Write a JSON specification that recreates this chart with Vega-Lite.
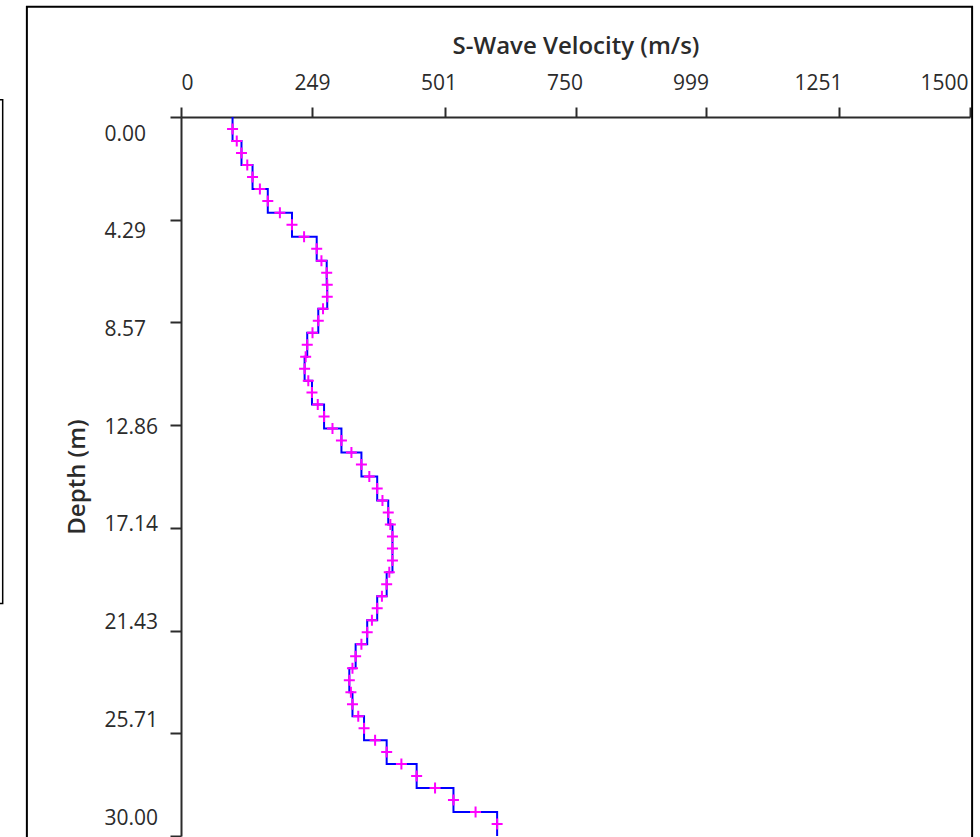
{
  "$schema": "https://vega.github.io/schema/vega-lite/v6.json",
  "width": 789,
  "height": 719,
  "autosize": "none",
  "padding": {"left": 181, "top": 117, "right": 10, "bottom": 1},
  "background": "white",
  "config": {"view": {"stroke": null}, "font": "Open Sans"},
  "datasets": {
    "layers": [
      {"depth": 0, "vs": 98}, {"depth": 1, "vs": 115}, {"depth": 2, "vs": 136}, {"depth": 3, "vs": 165},
      {"depth": 4, "vs": 211}, {"depth": 5, "vs": 258}, {"depth": 6, "vs": 277}, {"depth": 7, "vs": 278},
      {"depth": 8, "vs": 261}, {"depth": 9, "vs": 240}, {"depth": 10, "vs": 235}, {"depth": 11, "vs": 249},
      {"depth": 12, "vs": 272}, {"depth": 13, "vs": 305}, {"depth": 14, "vs": 343}, {"depth": 15, "vs": 373},
      {"depth": 16, "vs": 394}, {"depth": 17, "vs": 402}, {"depth": 18, "vs": 402}, {"depth": 19, "vs": 391},
      {"depth": 20, "vs": 373}, {"depth": 21, "vs": 354}, {"depth": 22, "vs": 332}, {"depth": 23, "vs": 320},
      {"depth": 24, "vs": 326}, {"depth": 25, "vs": 348}, {"depth": 26, "vs": 391}, {"depth": 27, "vs": 448},
      {"depth": 28, "vs": 518}, {"depth": 29, "vs": 601}, {"depth": 30, "vs": 601}
    ],
    "markers": [
      {"depth": 0.5, "vs": 98}, {"depth": 1.0, "vs": 106}, {"depth": 1.5, "vs": 115}, {"depth": 2.0, "vs": 126},
      {"depth": 2.5, "vs": 136}, {"depth": 3.0, "vs": 150}, {"depth": 3.5, "vs": 165}, {"depth": 4.0, "vs": 188},
      {"depth": 4.5, "vs": 211}, {"depth": 5.0, "vs": 234}, {"depth": 5.5, "vs": 258}, {"depth": 6.0, "vs": 267},
      {"depth": 6.5, "vs": 277}, {"depth": 7.0, "vs": 278}, {"depth": 7.5, "vs": 278}, {"depth": 8.0, "vs": 270},
      {"depth": 8.5, "vs": 261}, {"depth": 9.0, "vs": 250}, {"depth": 9.5, "vs": 240}, {"depth": 10.0, "vs": 237},
      {"depth": 10.5, "vs": 235}, {"depth": 11.0, "vs": 242}, {"depth": 11.5, "vs": 249}, {"depth": 12.0, "vs": 260},
      {"depth": 12.5, "vs": 272}, {"depth": 13.0, "vs": 288}, {"depth": 13.5, "vs": 305}, {"depth": 14.0, "vs": 324},
      {"depth": 14.5, "vs": 343}, {"depth": 15.0, "vs": 358}, {"depth": 15.5, "vs": 373}, {"depth": 16.0, "vs": 383},
      {"depth": 16.5, "vs": 394}, {"depth": 17.0, "vs": 398}, {"depth": 17.5, "vs": 402}, {"depth": 18.0, "vs": 402},
      {"depth": 18.5, "vs": 402}, {"depth": 19.0, "vs": 396}, {"depth": 19.5, "vs": 391}, {"depth": 20.0, "vs": 382},
      {"depth": 20.5, "vs": 373}, {"depth": 21.0, "vs": 363}, {"depth": 21.5, "vs": 354}, {"depth": 22.0, "vs": 343},
      {"depth": 22.5, "vs": 332}, {"depth": 23.0, "vs": 326}, {"depth": 23.5, "vs": 320}, {"depth": 24.0, "vs": 323},
      {"depth": 24.5, "vs": 326}, {"depth": 25.0, "vs": 337}, {"depth": 25.5, "vs": 348}, {"depth": 26.0, "vs": 369},
      {"depth": 26.5, "vs": 391}, {"depth": 27.0, "vs": 419}, {"depth": 27.5, "vs": 448}, {"depth": 28.0, "vs": 483},
      {"depth": 28.5, "vs": 518}, {"depth": 29.0, "vs": 560}, {"depth": 29.5, "vs": 601}
    ]
  },
  "layer": [
    {
      "data": {"name": "layers"},
      "mark": {"type": "line", "interpolate": "step-before", "color": "#0000FF", "strokeWidth": 2},
      "encoding": {
        "order": {"field": "depth", "type": "quantitative"},
        "x": {
          "field": "vs", "type": "quantitative",
          "scale": {"domain": [0, 1500], "nice": false, "zero": false},
          "axis": {
            "orient": "top",
            "title": "S-Wave Velocity (m/s)",
            "values": [0, 249, 501, 750, 999, 1251, 1500],
            "format": "d",
            "grid": false,
            "domainColor": "#2b2b2b", "domainWidth": 2,
            "tickColor": "#2b2b2b", "tickWidth": 2, "tickSize": 10,
            "labelFont": "Open Sans", "labelFontSize": 21, "labelColor": "#2b2b2b",
            "labelPadding": 14, "labelFlush": false, "labelAngle": 0,
            "labelOffset": {
              "condition": [
                {"test": "datum.value < 100", "value": 6},
                {"test": "datum.value < 300", "value": 0},
                {"test": "datum.value < 600", "value": -6},
                {"test": "datum.value < 800", "value": -11},
                {"test": "datum.value < 1100", "value": -16},
                {"test": "datum.value < 1300", "value": -21}
              ],
              "value": -26
            },
            "titleFont": "Open Sans", "titleFontSize": 24, "titleFontWeight": 600, "titleColor": "#2b2b2b",
            "titlePadding": 14
          }
        },
        "y": {
          "field": "depth", "type": "quantitative",
          "scale": {"domain": [0, 30], "nice": false, "zero": false, "reverse": true},
          "axis": {
            "orient": "left",
            "title": "Depth (m)",
            "values": [0, 4.29, 8.57, 12.86, 17.14, 21.43, 25.71, 30],
            "format": ".2f",
            "grid": false,
            "domainColor": "#2b2b2b", "domainWidth": 2,
            "tickColor": "#2b2b2b", "tickWidth": 2, "tickSize": 11,
            "labelFont": "Open Sans", "labelFontSize": 21, "labelColor": "#2b2b2b",
            "labelAlign": "left", "labelBaseline": "middle",
            "labelPadding": 66, "labelFlush": false,
            "labelOffset": {
              "condition": [
                {"test": "datum.value < 1", "value": 17},
                {"test": "datum.value < 5", "value": 12},
                {"test": "datum.value < 9", "value": 7},
                {"test": "datum.value < 13", "value": 2},
                {"test": "datum.value < 18", "value": -3},
                {"test": "datum.value < 22", "value": -8},
                {"test": "datum.value < 26", "value": -13}
              ],
              "value": -18
            },
            "titleFont": "Open Sans", "titleFontSize": 24, "titleFontWeight": 600, "titleColor": "#2b2b2b",
            "titlePadding": 15
          }
        }
      }
    },
    {
      "data": {"name": "markers"},
      "mark": {"type": "point", "shape": "M-1,0L1,0M0,-1L0,1", "size": 121, "filled": false, "stroke": "#FF00FF", "strokeWidth": 2, "opacity": 1},
      "encoding": {
        "x": {"field": "vs", "type": "quantitative"},
        "y": {"field": "depth", "type": "quantitative"}
      }
    },
    {
      "data": {"values": [{"frame": "outer"}]},
      "mark": {"type": "rect", "filled": false, "stroke": "black", "strokeWidth": 2, "clip": false},
      "encoding": {
        "x": {"datum": -293, "type": "quantitative"}, "x2": {"datum": 1504},
        "y": {"datum": -4.6, "type": "quantitative"}, "y2": {"datum": 31}
      }
    },
    {
      "data": {"values": [{"frame": "side"}]},
      "mark": {"type": "rect", "filled": false, "stroke": "black", "strokeWidth": 1.5, "clip": false},
      "encoding": {
        "x": {"datum": -380, "type": "quantitative"}, "x2": {"datum": -339},
        "y": {"datum": -0.72, "type": "quantitative"}, "y2": {"datum": 20.3}
      }
    }
  ]
}
